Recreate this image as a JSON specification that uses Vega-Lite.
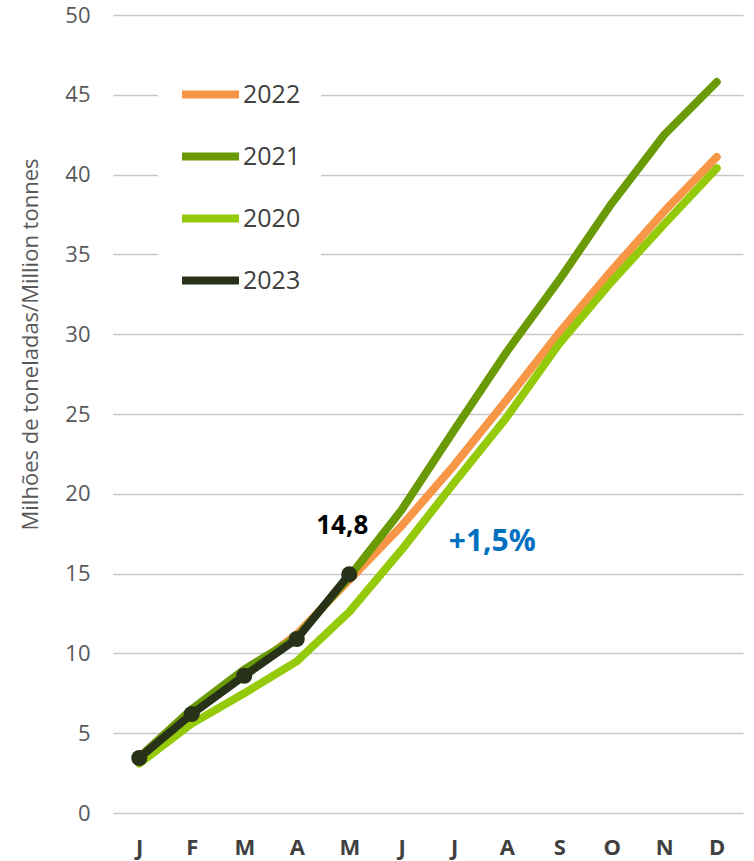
{
  "$schema": "https://vega.github.io/schema/vega-lite/v6.json",
  "width": 630,
  "height": 798,
  "autosize": "none",
  "padding": {"left": 113, "top": 15, "right": 11, "bottom": 48},
  "background": "white",
  "config": {
    "font": "Open Sans",
    "view": {"stroke": null}
  },
  "datasets": {
    "series": [
      {"year": "2022", "m": 1, "v": 3.4}, {"year": "2022", "m": 2, "v": 6.2}, {"year": "2022", "m": 3, "v": 8.7}, {"year": "2022", "m": 4, "v": 11.2},
      {"year": "2022", "m": 5, "v": 14.6}, {"year": "2022", "m": 6, "v": 18.0}, {"year": "2022", "m": 7, "v": 21.8}, {"year": "2022", "m": 8, "v": 25.9},
      {"year": "2022", "m": 9, "v": 30.1}, {"year": "2022", "m": 10, "v": 34.0}, {"year": "2022", "m": 11, "v": 37.7}, {"year": "2022", "m": 12, "v": 41.1},
      {"year": "2020", "m": 1, "v": 3.1}, {"year": "2020", "m": 2, "v": 5.6}, {"year": "2020", "m": 3, "v": 7.5}, {"year": "2020", "m": 4, "v": 9.5},
      {"year": "2020", "m": 5, "v": 12.6}, {"year": "2020", "m": 6, "v": 16.5}, {"year": "2020", "m": 7, "v": 20.7}, {"year": "2020", "m": 8, "v": 24.8},
      {"year": "2020", "m": 9, "v": 29.4}, {"year": "2020", "m": 10, "v": 33.3}, {"year": "2020", "m": 11, "v": 36.9}, {"year": "2020", "m": 12, "v": 40.4},
      {"year": "2021", "m": 1, "v": 3.5}, {"year": "2021", "m": 2, "v": 6.5}, {"year": "2021", "m": 3, "v": 9.0}, {"year": "2021", "m": 4, "v": 11.0},
      {"year": "2021", "m": 5, "v": 14.8}, {"year": "2021", "m": 6, "v": 19.0}, {"year": "2021", "m": 7, "v": 24.0}, {"year": "2021", "m": 8, "v": 28.9},
      {"year": "2021", "m": 9, "v": 33.4}, {"year": "2021", "m": 10, "v": 38.2}, {"year": "2021", "m": 11, "v": 42.5}, {"year": "2021", "m": 12, "v": 45.8},
      {"year": "2023", "m": 1, "v": 3.45}, {"year": "2023", "m": 2, "v": 6.2}, {"year": "2023", "m": 3, "v": 8.6}, {"year": "2023", "m": 4, "v": 10.9},
      {"year": "2023", "m": 5, "v": 14.95}
    ],
    "notes": [
      {"m": 5, "v": 18.0, "label": "14,8", "kind": "value"},
      {"m": 7, "v": 17.0, "label": "+1,5%", "kind": "change"}
    ]
  },
  "layer": [
    {
      "data": {"name": "series"},
      "mark": {"type": "line", "strokeWidth": 8, "strokeCap": "round", "strokeJoin": "round"},
      "encoding": {
        "x": {
          "field": "m", "type": "ordinal",
          "scale": {"type": "point", "padding": 0.5, "domain": [1,2,3,4,5,6,7,8,9,10,11,12]},
          "axis": {
            "title": null, "domain": false, "ticks": false, "grid": false,
            "labelExpr": "['J','F','M','A','M','J','J','A','S','O','N','D'][datum.value - 1]",
            "labelAngle": 0, "labelFontSize": 22, "labelFontWeight": "bold", "labelColor": "#404040",
            "labelPadding": 24
          }
        },
        "y": {
          "field": "v", "type": "quantitative",
          "scale": {"domain": [0, 50], "nice": false, "zero": true},
          "axis": {
            "title": "Milhões de toneladas/Million tonnes",
            "titleFontSize": 22, "titleFontWeight": "normal", "titleColor": "#595959", "titlePadding": 22,
            "titleY": 329,
            "values": [0,5,10,15,20,25,30,35,40,45,50],
            "domain": false, "ticks": false,
            "labelFontSize": 22, "labelColor": "#595959", "labelPadding": 23,
            "gridColor": "#C8C8C8", "gridWidth": 1.5
          }
        },
        "color": {
          "field": "year", "type": "nominal",
          "scale": {"domain": ["2022", "2021", "2020", "2023"], "range": ["#F79646", "#6A9A06", "#94CA0A", "#283219"]},
          "legend": {
            "title": null, "orient": "none", "legendX": 45, "legendY": 27,
            "symbolType": "stroke", "symbolSize": 3249, "symbolStrokeWidth": 8,
            "labelFontSize": 25, "labelColor": "#404040", "labelOffset": 0,
            "rowPadding": 13, "padding": 20, "fillColor": "white"
          }
        },
        "order": {"value": 0}
      }
    },
    {
      "data": {"name": "series"},
      "transform": [{"filter": "datum.year == '2023'"}],
      "mark": {"type": "point", "filled": true, "size": 260, "color": "#283219", "opacity": 1},
      "encoding": {
        "x": {"field": "m", "type": "ordinal"},
        "y": {"field": "v", "type": "quantitative"}
      }
    },
    {
      "data": {"name": "notes"},
      "transform": [{"filter": "datum.kind == 'value'"}],
      "mark": {"type": "text", "fontSize": 26, "fontWeight": "bold", "color": "#000000", "dx": -7},
      "encoding": {
        "x": {"field": "m", "type": "ordinal"},
        "y": {"field": "v", "type": "quantitative"},
        "text": {"field": "label"}
      }
    },
    {
      "data": {"name": "notes"},
      "transform": [{"filter": "datum.kind == 'change'"}],
      "mark": {"type": "text", "fontSize": 30, "fontWeight": "bold", "color": "#0070C0", "dx": 38},
      "encoding": {
        "x": {"field": "m", "type": "ordinal"},
        "y": {"field": "v", "type": "quantitative"},
        "text": {"field": "label"}
      }
    }
  ]
}
